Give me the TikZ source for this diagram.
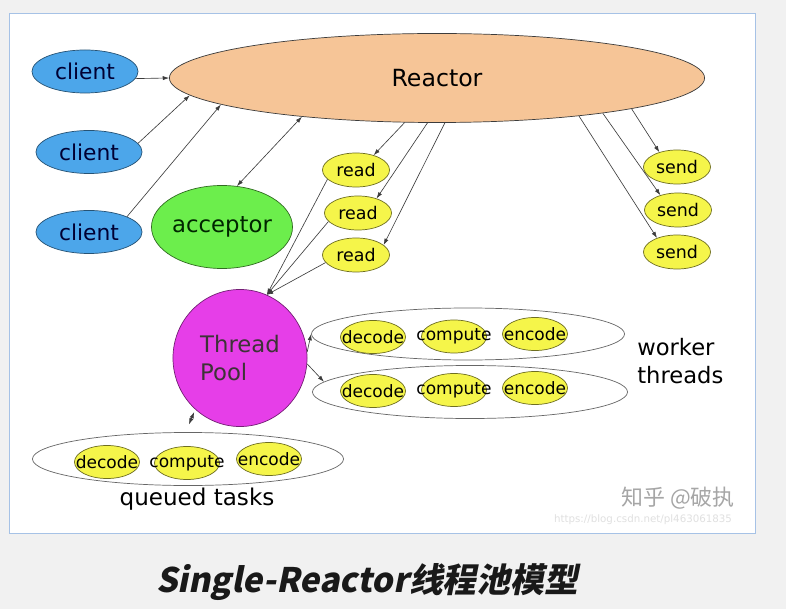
\documentclass[tikz,border=0pt]{standalone}
\usepackage{fontspec}
\setmainfont{DejaVu Sans}
\newfontfamily\cjk{Noto Sans CJK SC}
\newfontfamily\titlefont{Noto Sans CJK SC}[FakeSlant=0.2]
\usetikzlibrary{arrows.meta,positioning,shapes.geometric}
\definecolor{rcbg}{HTML}{F1F1F1}
\definecolor{rcframe}{HTML}{A6C2E6}
\definecolor{rcblue}{HTML}{4CA6EA}
\definecolor{rcpeach}{HTML}{F6C597}
\definecolor{rcgreen}{HTML}{6CEE4C}
\definecolor{rcmagenta}{HTML}{E63EE8}
\definecolor{rcyellow}{HTML}{F5F54A}
\definecolor{rcline}{HTML}{3C3C3C}

\begin{document}
\begin{tikzpicture}[x=0.025cm, y=-0.025cm,
    every node/.style={inner sep=0pt},
    box/.style={ellipse, draw=rcline, line width=0.5pt},
    client/.style={box, fill=rcblue, draw=rcblue!50!black, minimum width=2.65cm, minimum height=1.075cm, font=\fontsize{15.5}{18}\selectfont, text=black!80!blue},
    io/.style={box, fill=rcyellow, draw=rcyellow!45!black, minimum width=1.675cm, minimum height=0.85cm, font=\fontsize{12.4}{14}\selectfont},
    task/.style={box, fill=rcyellow, draw=rcyellow!45!black, minimum width=1.625cm, minimum height=0.825cm},
    tasktext/.style={font=\fontsize{12.1}{14}\selectfont},
    taskgroup/.style={box, fill=white, draw=black!60},
    link/.style={draw=rcline, line width=0.45pt, -{Latex[length=4.5pt,width=3pt]}},
    both/.style={link, {Latex[length=4.5pt,width=3pt]}-{Latex[length=4.5pt,width=3pt]}}
  ]
    \useasboundingbox (0,0) rectangle (786,609);
    \fill[rcbg] (0,0) rectangle (786,609);
    \draw[rcframe, fill=white, line width=0.7pt] (9,13) rectangle (755,533);

    % clients and reactor
    \node[client] (client1) at (85,71.5) {client};
    \node[client] (client2) at (89,152) {client};
    \node[client] (client3) at (89,232) {client};
    \node[box, fill=rcpeach, minimum width=13.375cm, minimum height=2.225cm, font=\fontsize{16.8}{20}\selectfont] (reactor) at (437,78) {Reactor};
    \node[box, fill=rcgreen, draw=rcgreen!45!black, minimum width=3.4cm, minimum height=2.075cm, font=\fontsize{16.2}{20}\selectfont, text=black!85!green] (acceptor) at (222,227) {acceptor};

    % read / send handlers
    \node[io] (read1) at (356,170) {read};
    \node[io] (read2) at (358,213) {read};
    \node[io] (read3) at (356,255) {read};
    \node[io] (send1) at (677,167) {send};
    \node[io] (send2) at (678,210) {send};
    \node[io] (send3) at (677,252) {send};

    % thread pool
    \node[box, fill=rcmagenta, draw=rcmagenta!50!black, minimum width=3.35cm, minimum height=3.425cm, align=left, font=\fontsize{16.2}{20}\selectfont, text=black!88!magenta] (pool) at (240,358) {Thread\\Pool};

    \node[taskgroup, minimum width=7.825cm, minimum height=1.3cm] (worker1) at (468,334) {};
    \node[taskgroup, minimum width=7.875cm, minimum height=1.325cm] (worker2) at (470,392) {};
    \node[taskgroup, minimum width=7.775cm, minimum height=1.325cm] (queue) at (188,459) {};

    \node[task, label={[tasktext]center:decode}] (wdec1) at (373,337) {};
    \node[task, label={[tasktext]center:compute}] (wcomp1) at (454,336.5) {};
    \node[task, label={[tasktext]center:encode}] (wenc1) at (535,334) {};
    \node[task, label={[tasktext]center:decode}] (wdec2) at (373,391) {};
    \node[task, label={[tasktext]center:compute}] (wcomp2) at (454,390) {};
    \node[task, label={[tasktext]center:encode}] (wenc2) at (535,388) {};
    \node[task, label={[tasktext]center:decode}] (qdec) at (107,462) {};
    \node[task, label={[tasktext]center:compute}] (qcomp) at (187,463) {};
    \node[task, label={[tasktext]center:encode}] (qenc) at (269,459) {};

    \node[font=\fontsize{16.4}{20}\selectfont] (queuelabel) at (197,499) {queued tasks};
    \node[anchor=west, align=left, font=\fontsize{16.1}{20}\selectfont] (workerlabel) at (637,361) {worker\\threads};

    % connectors
    \draw[link] (client1.352) -- (reactor.west);
    \draw[link] (client2.10) -- (reactor.184);
    \draw[link] (client3.22) -- (reactor.187);
    \draw[both] (reactor.196) -- (acceptor.70);
    \draw[link] (reactor.234) -- (read1.40);
    \draw[link] (reactor.258) -- (read2.38);
    \draw[link] (reactor.280) -- (read3.20);
    \draw[link] (reactor.351) -- (send1.140);
    \draw[link] (reactor.348) -- (send2.140);
    \draw[link] (reactor.345) -- (send3.145);
    \draw[link] (read1.198) -- (pool.67);
    \draw[link] (read2.196) -- (pool.67);
    \draw[link] (read3.194) -- (pool.67);
    \draw[link] (pool.5) -- (worker1.west);
    \draw[link] (pool.355) -- (worker2.176);
    \draw[both, shorten <=2pt, shorten >=6pt] (pool.229) -- (queue.95);

    % watermark and caption
    \node[font=\cjk\fontsize{15.6}{18}\selectfont, text=black!35] (zhihu) at (678,498) {知乎 @破执};
    \node[font=\fontsize{7.3}{9}\selectfont, text=black!12] (url) at (643,520) {https://blog.csdn.net/pl463061835};
    \node[anchor=base, font=\titlefont\bfseries\fontsize{24}{28}\selectfont, text=black!90] (title) at (367,592) {Single-Reactor线程池模型};
\end{tikzpicture}
\end{document}
